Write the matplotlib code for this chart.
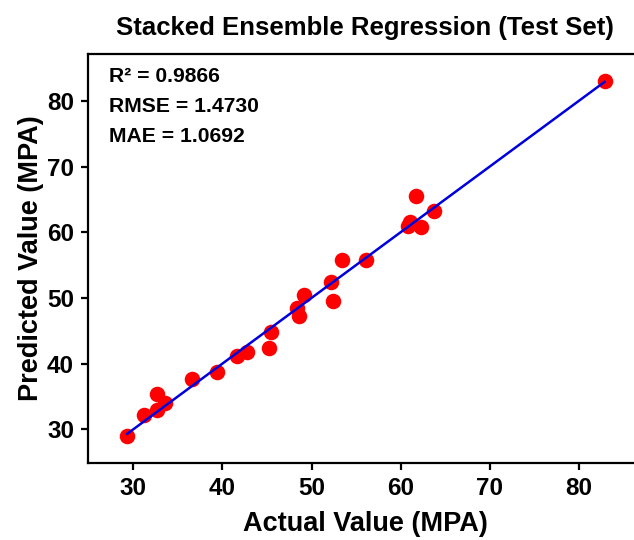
import matplotlib
matplotlib.use("Agg")
import matplotlib.pyplot as plt
import numpy as np

plt.rcParams['font.family'] = ['Liberation Sans', 'DejaVu Sans']

actual = [29.3, 31.2, 32.7, 32.7, 33.5, 36.6, 39.4, 41.6, 42.7, 45.2, 45.5,
          48.6, 48.4, 49.1, 52.4, 52.2, 53.4, 56.1,
          61.7, 63.7, 61.1, 60.8, 62.3, 82.9]
predicted = [28.9, 32.2, 35.3, 33.0, 34.0, 37.6, 38.7, 41.1, 41.7, 42.3, 44.8,
             47.2, 48.4, 50.5, 49.5, 52.4, 55.7, 55.7,
             65.5, 63.2, 61.5, 60.9, 60.8, 83.1]
ticks = [30, 40, 50, 60, 70, 80]
metrics = ["R\u00b2 = 0.9866", "RMSE = 1.4730", "MAE = 1.0692"]

fig = plt.figure(figsize=(6.34, 5.40), dpi=100)
W, H = 634, 540
ax = fig.add_axes([88 / W, (H - 462.7) / H, (642 - 88) / W, (462.7 - 54.3) / H])

ax.scatter(actual, predicted, s=125, color='#ff0000', zorder=3, linewidths=0)
lo = min(actual)
hi = max(actual)
ax.plot([lo, hi], [lo, hi], color='#0000dd', lw=1.8, zorder=4)

lim = (min(min(actual), min(predicted)) - 4, max(max(actual), max(predicted)) + 4)
ax.set_xlim(lim)
ax.set_ylim(lim)
ax.set_xticks(ticks)
ax.set_yticks(ticks)

for s in ax.spines.values():
    s.set_linewidth(1.6)
ax.tick_params(width=1.6, length=5, labelsize=17.5, pad=5)
for lab in ax.get_xticklabels() + ax.get_yticklabels():
    lab.set_fontweight('bold')

ax.set_xlabel("Actual Value (MPA)", fontsize=19.5, fontweight='bold', labelpad=8)
ax.set_ylabel("Predicted Value (MPA)", fontsize=19.5, fontweight='bold', labelpad=2)
ax.set_title("Stacked Ensemble Regression (Test Set)", fontsize=18.5, fontweight='bold', pad=14)

ax.text(0.038, 0.968, "\n".join(metrics), transform=ax.transAxes, va='top', ha='left',
        fontsize=15.2, fontweight='bold', linespacing=1.72)

fig.savefig("out.png", dpi=100)
